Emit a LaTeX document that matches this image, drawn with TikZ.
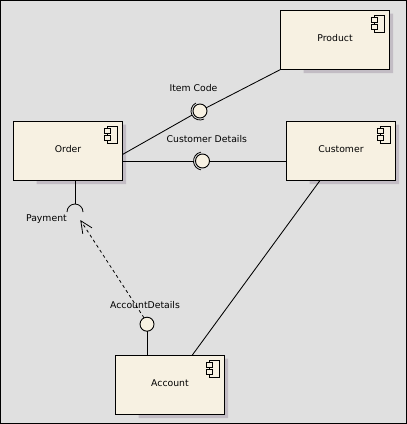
\documentclass[tikz,border=0pt]{standalone}
\usepackage{fontspec}
\setmainfont{DejaVu Sans}
\usetikzlibrary{arrows.meta,positioning,calc,backgrounds}
\definecolor{canvasgray}{HTML}{E0E0E0}
\definecolor{boxcream}{HTML}{F7F1E2}
\definecolor{shadowgray}{HTML}{C2BCC4}
\tikzset{
  compbox/.style={
    rectangle, draw=black, fill=boxcream, line width=1pt,
    minimum width=109pt, minimum height=59pt, inner sep=0pt, outer sep=0pt,
    text height=9pt, text depth=7pt, font=\fontsize{9.3pt}{11pt}\selectfont
  },
  ballnode/.style={
    circle, draw=black, fill=boxcream, line width=0.9pt,
    minimum size=14pt, inner sep=0pt, outer sep=0pt
  },
  socketnode/.style={circle, minimum size=18pt, inner sep=0pt, outer sep=0pt},
  wirelabel/.style={font=\fontsize{9.3pt}{11pt}\selectfont, inner sep=0pt},
  wire/.style={draw=black, line width=0.85pt},
  socketarc/.style={draw=black, line width=0.8pt},
  dasharrow/.style={draw=black, line width=0.8pt, dashed, dash pattern=on 3pt off 3pt, -{Straight Barb[length=12pt,width=11pt,line width=0.8pt]}},
}
\begin{document}
\begin{tikzpicture}[node distance=10pt]
  \useasboundingbox (0,0) rectangle (407pt,-424pt);
  \begin{scope}[on background layer]
    \fill[canvasgray] (0,0) rectangle (407pt,-424pt);
    \draw[black, line width=1pt] (0.5pt,-0.5pt) rectangle (406.5pt,-423.5pt);
  \end{scope}

  \node (order) [compbox] at (68pt,-151pt) {Order};
  \node (customer) [compbox, right=164pt of order] {Customer};
  \node (product) [compbox, above=52pt of customer, xshift=-6pt] {Product};
  \node (account) [compbox, below=175pt of order, xshift=102pt] {Account};

  % shadows and component icons
  \foreach \boxname in {order,customer,product,account} {
    \begin{scope}[on background layer]
      \fill[shadowgray] ($(\boxname.north east)+(0,-3pt)$) -- ++(3.5pt,0)
        |- ($(\boxname.south west)+(23pt,-3.5pt)$) -- ++(0,3.5pt) -| cycle;
    \end{scope}
    \draw[black, line width=0.8pt] ($(\boxname.north east)+(-15pt,-5pt)$) rectangle ++(10pt,-16.5pt);
    \draw[black, line width=0.8pt, fill=boxcream] ($(\boxname.north east)+(-18pt,-7pt)$) rectangle ++(6pt,-5pt);
    \draw[black, line width=0.8pt, fill=boxcream] ($(\boxname.north east)+(-18pt,-14pt)$) rectangle ++(6pt,-5pt);
  }

  \node (itemsocket) [socketnode, right=68.5pt of order, yshift=40pt] {};
  \node (detailsocket) [socketnode, right=71pt of order, yshift=-10pt] {};
  \node (paysocket) [socketnode, minimum size=16pt, below=23.5pt of order, xshift=7pt] {};
  \node (itemball) [ballnode] at (itemsocket) {};
  \node (detailball) [ballnode] at (detailsocket) {};
  \node (accball) [ballnode, above=24.3pt of account, xshift=-23pt] {};

  \node (itemlabel) [wirelabel, above=12.5pt of itemball, xshift=-6.5pt] {Item Code};
  \node (detaillabel) [wirelabel, above=11.5pt of detailball, xshift=4.3pt] {Customer Details};
  \node (paylabel) [wirelabel, left=0pt of paysocket, yshift=-7pt] {Payment};
  \node (acclabel) [wirelabel, above=8pt of accball, xshift=-2pt] {AccountDetails};

  \draw[socketarc] (itemsocket.117) arc[start angle=117, end angle=297, radius=9pt];
  \draw[socketarc] (detailsocket.100) arc[start angle=100, end angle=260, radius=9pt];
  \draw[socketarc] (paysocket.0) arc[start angle=0, end angle=180, radius=8pt];

  \draw[wire] ([yshift=-3.5pt]order.east) -- (itemsocket.207);
  \draw[wire] (itemball) -- (product.south west);
  \draw[wire] ([yshift=-10pt]order.east) -- (detailsocket);
  \draw[wire] (detailball) -- (detailball -| customer.west);
  \draw[wire] (order.south -| paysocket) -- (paysocket.north);
  \draw[wire] (accball) -- (accball |- account.north);
  \draw[wire] ([xshift=-21pt]customer.south) -- ([xshift=22pt]account.north);
  \draw[dasharrow] (accball.115) -- ([xshift=5.3pt]paysocket.south);
\end{tikzpicture}
\end{document}
